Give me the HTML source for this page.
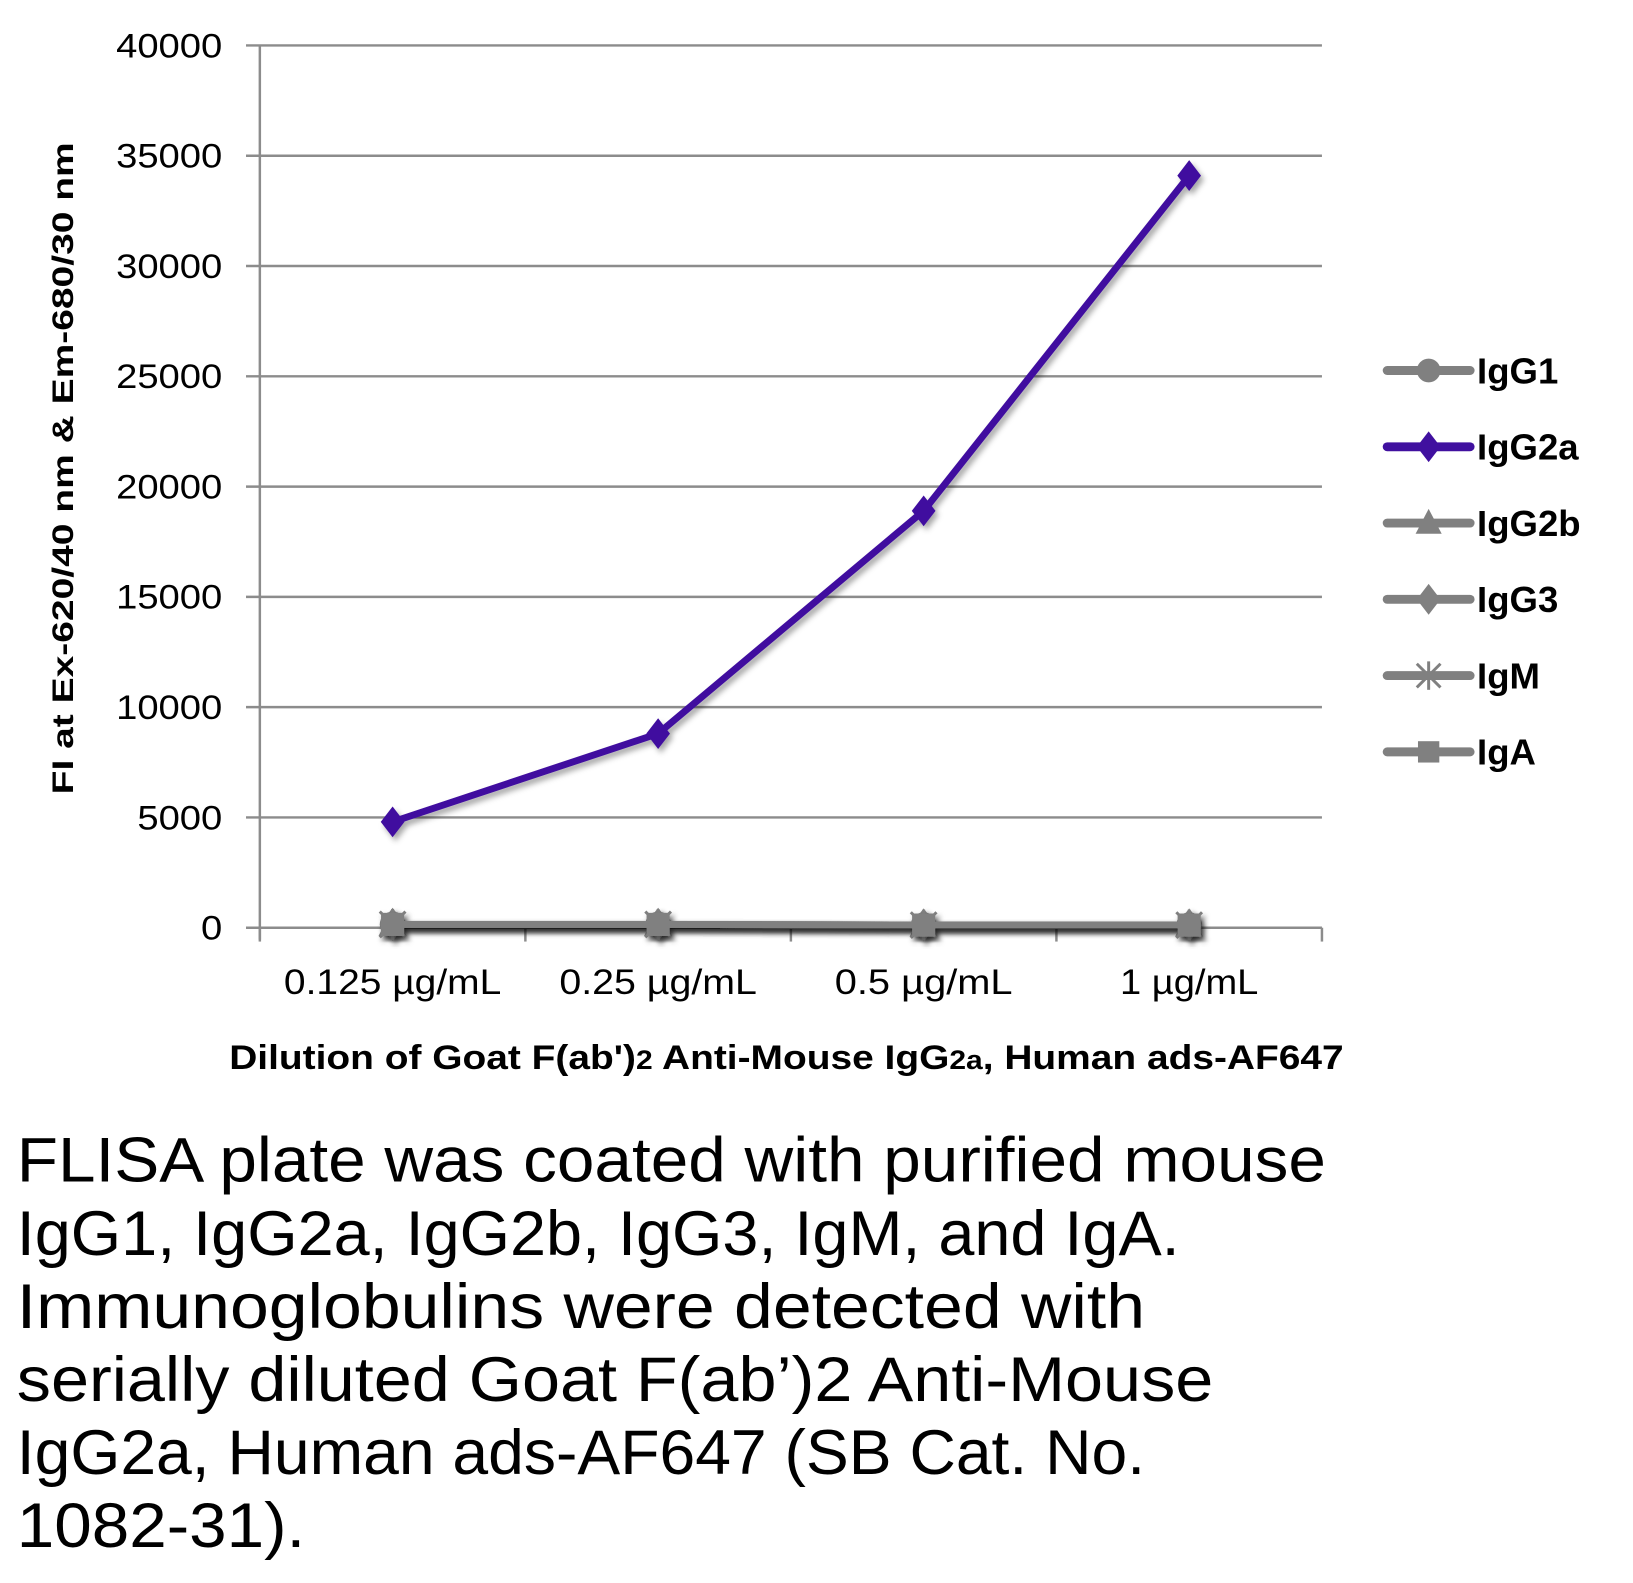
<!DOCTYPE html>
<html><head><meta charset="utf-8"><style>
body{margin:0;background:#fff;}
svg{display:block;font-family:"Liberation Sans",sans-serif;}
</style></head><body>
<svg id="chart" width="1633" height="1583" viewBox="0 0 1633 1583">
<defs><filter id="sh" x="-20%" y="-20%" width="140%" height="140%"><feDropShadow dx="3" dy="4" stdDeviation="3" flood-color="#000" flood-opacity="0.35"/></filter></defs>
<g transform="scale(0.988)">
<g id="grid"></g>
<g id="axes"></g>
<g id="series"></g>
<g id="legend"></g>
<text x="66" y="474" transform="rotate(-90 66 474)" text-anchor="middle" dominant-baseline="middle" font-size="30" font-weight="bold" textLength="660" lengthAdjust="spacingAndGlyphs">FI at Ex-620/40 nm &amp; Em-680/30 nm</text>
<text x="796" y="1082" text-anchor="middle" font-size="35" font-weight="bold" textLength="1128" lengthAdjust="spacingAndGlyphs">Dilution of Goat F(ab')<tspan font-size="27">2</tspan> Anti-Mouse IgG<tspan font-size="27">2a</tspan>, Human ads-AF647</text>
<g font-size="64">
<text x="17" y="1196" textLength="1325" lengthAdjust="spacingAndGlyphs">FLISA plate was coated with purified mouse</text>
<text x="17" y="1270" textLength="1177" lengthAdjust="spacingAndGlyphs">IgG1, IgG2a, IgG2b, IgG3, IgM, and IgA.</text>
<text x="17" y="1344" textLength="1142" lengthAdjust="spacingAndGlyphs">Immunoglobulins were detected with</text>
<text x="17" y="1418" textLength="1211" lengthAdjust="spacingAndGlyphs">serially diluted Goat F(ab’)2 Anti-Mouse</text>
<text x="17" y="1492" textLength="1142" lengthAdjust="spacingAndGlyphs">IgG2a, Human ads-AF647 (SB Cat. No.</text>
<text x="17" y="1566" textLength="292" lengthAdjust="spacingAndGlyphs">1082-31).</text>
</g>
</g>
</svg>
<script>
const categories = ["0.125 µg/mL","0.25 µg/mL","0.5 µg/mL","1 µg/mL"];
const yTicks = [0,5000,10000,15000,20000,25000,30000,35000,40000];
const seriesNames = ["IgG1","IgG2a","IgG2b","IgG3","IgM","IgA"];
const igg1 = [150,150,120,120];
const igg2a = [4800,8800,18900,34100];
const igg2b = [150,150,120,120];
const igg3 = [150,150,120,120];
const igm = [150,150,120,120];
const iga = [150,150,120,120];
const allSeries = [igg1, igg2a, igg2b, igg3, igm, iga];
const markers = ["circle","diamond","triangle","diamond","star","square"];

const NS="http://www.w3.org/2000/svg";
const L=263,R=1338,T=46,B=939,yMax=40000;
const bw=(R-L)/categories.length;
const xs=i=>L+bw*(i+0.5);
const ys=v=>B-(v/yMax)*(B-T);
function mk(tag,attrs,parent){const e=document.createElementNS(NS,tag);for(const k in attrs)e.setAttribute(k,attrs[k]);parent.appendChild(e);return e;}
const grid=document.getElementById('grid'),axes=document.getElementById('axes'),ser=document.getElementById('series'),leg=document.getElementById('legend');
yTicks.forEach(t=>{
  const ln=mk('line',{x1:L-14,x2:R,y1:ys(t),y2:ys(t),stroke:'#8c8c8c','stroke-width':2.5},grid);
  
  
  const tx=mk('text',{x:225,y:ys(t)+12,'text-anchor':'end','font-size':35,textLength:String(t).length*21.5,lengthAdjust:'spacingAndGlyphs'},axes);
  tx.textContent=t;
  
  
});
mk('line',{x1:L,x2:L,y1:T,y2:B+12,stroke:'#8c8c8c','stroke-width':2.5},axes);
for(let i=0;i<=categories.length;i++){mk('line',{x1:L+bw*i,x2:L+bw*i,y1:B,y2:B+14,stroke:'#8c8c8c','stroke-width':2.5},axes);}
categories.forEach((c,i)=>{
  const tx=mk('text',{x:xs(i),y:1006,'text-anchor':'middle','font-size':36,textLength:c.length*20,lengthAdjust:'spacingAndGlyphs'},axes);
  tx.textContent=c;
  
  
});
function marker(type,x,y,col,parent,s){
  let e;
  if(type==='circle')e=mk('circle',{cx:x,cy:y,r:s,fill:col},parent);
  else if(type==='diamond')e=mk('polygon',{points:`${x},${y-s*1.3} ${x+s},${y} ${x},${y+s*1.3} ${x-s},${y}`,fill:col},parent);
  else if(type==='triangle')e=mk('polygon',{points:`${x},${y-s*1.2} ${x+s*1.1},${y+s*0.9} ${x-s*1.1},${y+s*0.9}`,fill:col},parent);
  else if(type==='square')e=mk('rect',{x:x-s*0.9,y:y-s*0.9,width:s*1.8,height:s*1.8,fill:col},parent);
  else {e=mk('g',{stroke:col,'stroke-width':3},parent);
    mk('line',{x1:x-s,y1:y-s,x2:x+s,y2:y+s},e);mk('line',{x1:x-s,y1:y+s,x2:x+s,y2:y-s},e);mk('line',{x1:x,y1:y-s*1.2,x2:x,y2:y+s*1.2},e);}
  return e;
}
const order=[0,2,3,4,5,1];
order.forEach(si=>{
  const data=allSeries[si];const col=si===1?'#40109f':'#808080';
  const g=mk('g',{filter:'url(#sh)'},ser);
  
  
  const pl=mk('polyline',{points:data.map((v,i)=>xs(i)+','+ys(v)).join(' '),fill:'none',stroke:col,'stroke-width':7,'stroke-linejoin':'round'},g);
  
  
  data.forEach((v,i)=>{const m=marker(markers[si],xs(i),ys(v),col,g,si===1?12:13);
    
    });
});
seriesNames.forEach((n,i)=>{
  const y=375+i*77.2;const col=i===1?'#40109f':'#808080';
  const g=mk('g',{},leg);
  
  
  mk('line',{x1:1404,x2:1488,y1:y,y2:y,stroke:col,'stroke-width':9,'stroke-linecap':'round'},g);
  marker(markers[i],1446,y,col,g,12);
  const t=mk('text',{x:1495,y:y+13,'font-size':37,'font-weight':'bold'},g);
  t.textContent=n;
});
</script>
</body></html>
